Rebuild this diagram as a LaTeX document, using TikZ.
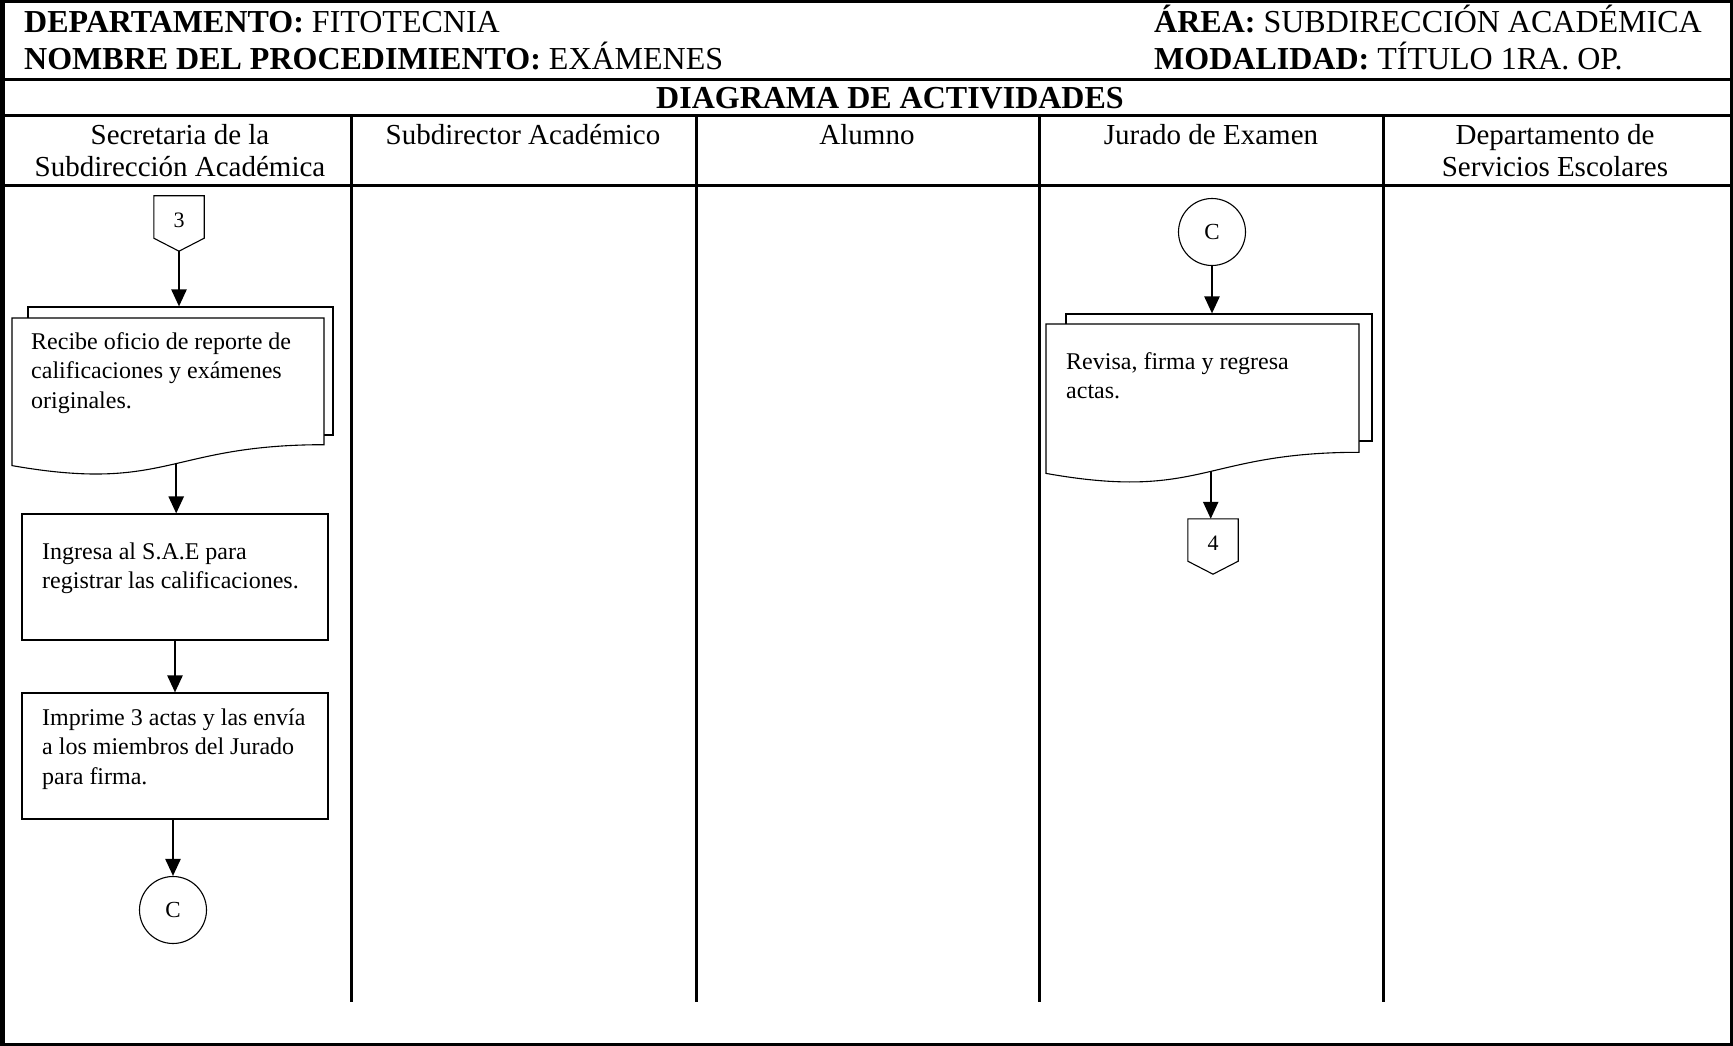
\documentclass[tikz,border=0pt]{standalone}
\usepackage{fontspec}
\setmainfont{Liberation Serif}
\usetikzlibrary{arrows.meta,calc}
\newcommand\natsp{\spaceskip=0pt \xspaceskip=0pt\relax}
\begin{document}
\begin{tikzpicture}[x=1pt,y=-1pt,
  borderline/.style={line width=3pt},
  sheet/.style={draw, line width=1.1pt, fill=white, inner sep=0pt},
  arr/.style={line width=2.4pt, -{Triangle[length=17pt,width=15pt]}},
  hdr/.style={anchor=base west, inner sep=0pt, font=\fontsize{32}{38}\selectfont},
  lane/.style={anchor=base, inner sep=0pt, text width=330pt, align=flush center, font=\fontsize{29}{32}\selectfont},
  body/.style={anchor=base west, inner sep=0pt, text width=#1, align=flush left, font=\fontsize{24}{29.5}\selectfont},
  proc/.style={draw, line width=1.1pt, fill=white, inner sep=0pt},
  conn/.style={draw, circle, line width=1.1pt, minimum size=67pt, inner sep=0pt, font=\fontsize{23}{24}\selectfont},
  offpage/.style={inner sep=0pt, minimum width=50pt, minimum height=42pt, font=\fontsize{22}{24}\selectfont},
  pent/.style={line width=1.1pt}
]
\useasboundingbox (0,0) rectangle (1733,1046);
% outer frame and table lines
\draw[line width=3.5pt] (1.75,1.75) rectangle (1731.25,1044.25);
\draw[line width=5pt] (2.5,0) -- (2.5,1046);
\draw[borderline] (0,80) -- (1733,80);
\draw[borderline] (0,116) -- (1733,116);
\draw[borderline] (0,186) -- (1733,186);
\foreach \xx in {351,696,1039,1383} \draw[borderline] (\xx,116) -- (\xx,1002);

% header texts
\node[hdr] (dep) at (24,33) {\textbf{DEPARTAMENTO:} FITOTECNIA};
\node[hdr] (nom) at (24,70) {\textbf{NOMBRE DEL PROCEDIMIENTO:} EXÁMENES};
\node[hdr] (area) at (1154,33) {\textbf{ÁREA:} SUBDIRECCIÓN ACADÉMICA};
\node[hdr] (moda) at (1154,70) {\textbf{MODALIDAD:} TÍTULO 1RA. OP.};
\node[hdr, anchor=base] (diag) at (890,109) {\textbf{DIAGRAMA DE ACTIVIDADES}};

% lane headers
\node[lane] (l1) at (180,145) {\natsp Secretaria de la\\Subdirección Académica};
\node[lane] (l2) at (523,145) {\natsp Subdirector Académico};
\node[lane] (l3) at (867,145) {\natsp Alumno};
\node[lane] (l4) at (1211,145) {\natsp Jurado de Examen};
\node[lane] (l5) at (1555,145) {\natsp Departamento de\\Servicios Escolares};

% ---- lane 1 ----
\node[offpage] (o3) at (179,217) {\raisebox{-10pt}[0pt][0pt]{3}};
\draw[pent] (o3.south west) -- (o3.north west) -- (o3.north east) -- (o3.south east) -- ($(o3.south)+(0,13)$) coordinate (o3tip) -- cycle;
\node[sheet, minimum width=305pt, minimum height=128pt] (d1b) at (180.5,371) {};
\draw[arr] (o3tip) -- (o3tip |- d1b.north);
\draw[sheet] (12,318) -- (324,318) -- (324,444.7) .. controls (168,444.7) and (168,493) .. (12,465.6) coordinate[pos=0.465] (d1w) -- cycle;
\node[body=285pt] (d1t) at (31,349) {\natsp Recibe oficio de reporte de\\calificaciones y exámenes\\originales.};

\node[proc, minimum width=306pt, minimum height=126pt] (b1) at (175,577) {};
\node[body=280pt] (b1t) at (42,559) {\natsp Ingresa al S.A.E para\\registrar las calificaciones.};
\draw[arr] (d1w) -- (d1w |- b1.north);

\node[proc, minimum width=306pt, minimum height=126pt] (b2) at (175,756) {};
\node[body=280pt] (b2t) at (42,725) {\natsp Imprime 3 actas y las envía\\a los miembros del Jurado\\para firma.};
\draw[arr] (b1.south) -- (b2.north);

\node[conn] (c1) at (173,910) {C};
\draw[arr] (b2.south -| c1.north) -- (c1.north);

% ---- lane 4 ----
\node[conn] (c2) at (1212,232) {C};
\node[sheet, minimum width=306pt, minimum height=127pt] (d2b) at (1219,377.5) {};
\draw[arr] (c2.south) -- (c2.south |- d2b.north);
\draw[sheet] (1046,324) -- (1359,324) -- (1359,452.3) .. controls (1202.5,452.3) and (1202.5,501.2) .. (1046,473.4) coordinate[pos=0.465] (d2w) -- cycle;
\node[body=290pt] (d2t) at (1066,369) {\natsp Revisa, firma y regresa\\actas.};

\node[offpage] (o4) at (1213,540) {\raisebox{-10pt}[0pt][0pt]{4}};
\draw[pent] (o4.south west) -- (o4.north west) -- (o4.north east) -- (o4.south east) -- ($(o4.south)+(0,13)$) coordinate (o4tip) -- cycle;
\draw[arr] (d2w) -- (d2w |- o4.north);
\end{tikzpicture}
\end{document}
